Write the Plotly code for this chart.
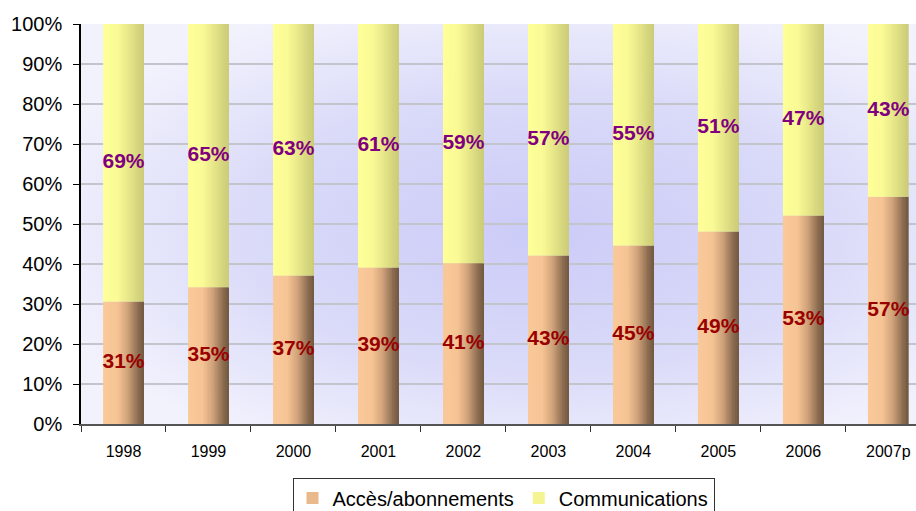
import base64
import plotly.graph_objects as go

# ---- data ----
years = ["1998", "1999", "2000", "2001", "2002", "2003", "2004", "2005", "2006", "2007p"]
acces_height = [30.6, 34.2, 37.1, 39.1, 40.2, 42.1, 44.6, 48.1, 52.1, 56.8]
acces_labels = ["31%", "35%", "37%", "39%", "41%", "43%", "45%", "49%", "53%", "57%"]
comm_labels = ["69%", "65%", "63%", "61%", "59%", "57%", "55%", "51%", "47%", "43%"]
comm_height = [100 - a for a in acces_height]
y_ticks = list(range(0, 101, 10))
y_tick_text = [f"{v}%" for v in y_ticks]

series_names = ["Accès/abonnements", "Communications"]

# ---- styling ----
FONT = "Arial, 'Liberation Sans', sans-serif"
BAR_W = 0.48
N_STRIPS = 24

acces_stops = [(0.0, (250, 201, 154)), (0.35, (246, 196, 148)), (0.6, (208, 163, 122)),
               (0.85, (142, 110, 82)), (1.0, (112, 88, 64))]
comm_stops = [(0.0, (255, 255, 153)), (0.35, (250, 250, 150)), (0.6, (233, 233, 138)),
              (0.85, (213, 213, 126)), (1.0, (204, 204, 120))]


def grad(stops, t):
    for (t0, c0), (t1, c1) in zip(stops[:-1], stops[1:]):
        if t <= t1:
            f = (t - t0) / (t1 - t0) if t1 > t0 else 0
            c = [round(a + (b - a) * f) for a, b in zip(c0, c1)]
            return f"rgb({c[0]},{c[1]},{c[2]})"
    c = stops[-1][1]
    return f"rgb({c[0]},{c[1]},{c[2]})"


fig = go.Figure()

strip_w = BAR_W / N_STRIPS
for i in range(N_STRIPS):
    t = (i + 0.5) / N_STRIPS
    off = -BAR_W / 2 + i * strip_w
    w = strip_w * (1.4 if i < N_STRIPS - 1 else 1.0)
    legend_strip = i == int(N_STRIPS * 0.45)
    fig.add_trace(go.Bar(
        x=years, y=acces_height, base=[0] * len(years),
        offset=off, width=w,
        marker=dict(color=grad(acces_stops, t), line=dict(width=0)),
        name=series_names[0], legendgroup="a", showlegend=legend_strip,
        hoverinfo="skip",
    ))
    fig.add_trace(go.Bar(
        x=years, y=comm_height, base=acces_height,
        offset=off, width=w,
        marker=dict(color=grad(comm_stops, t), line=dict(width=0)),
        name=series_names[1], legendgroup="c", showlegend=legend_strip,
        hoverinfo="skip",
    ))

# data labels, centred in each segment
fig.add_trace(go.Scatter(
    x=years, y=[a / 2 for a in acces_height], mode="text", text=acces_labels,
    textfont=dict(family=FONT, size=21, color="#990000", weight="bold"),
    showlegend=False, hoverinfo="skip", cliponaxis=False,
))
fig.add_trace(go.Scatter(
    x=years, y=[a + c / 2 for a, c in zip(acces_height, comm_height)], mode="text",
    text=comm_labels,
    textfont=dict(family=FONT, size=21, color="#800080", weight="bold"),
    showlegend=False, hoverinfo="skip", cliponaxis=False,
))

# radial background for the plot area
svg = (
    '<svg xmlns="http://www.w3.org/2000/svg" width="835" height="400" preserveAspectRatio="none">'
    '<defs><radialGradient id="g" cx="0.55" cy="0.52" r="0.62">'
    '<stop offset="0" stop-color="#CBCBF8"/>'
    '<stop offset="0.55" stop-color="#DADAF9"/>'
    '<stop offset="1" stop-color="#F2F2FD"/>'
    '</radialGradient></defs>'
    '<rect width="835" height="400" fill="url(#g)"/></svg>'
)
bg_src = "data:image/svg+xml;base64," + base64.b64encode(svg.encode()).decode()

fig.update_layout(
    width=916, height=511,
    margin=dict(l=81, r=0, t=24, b=87, autoexpand=False),
    paper_bgcolor="white",
    plot_bgcolor="rgba(0,0,0,0)",
    barmode="overlay",
    font=dict(family=FONT, color="black"),
    images=[dict(source=bg_src, xref="paper", yref="paper", x=0, y=1,
                 sizex=1, sizey=1, xanchor="left", yanchor="top",
                 sizing="stretch", layer="below")],
    xaxis=dict(
        type="category", range=[-0.5, 9.326], automargin=False,
        showline=True, linecolor="#555555", linewidth=1.5,
        ticks="outside", tickson="boundaries", ticklen=6, tickcolor="#333333",
        tickfont=dict(size=16, family=FONT, color="black"),
        ticklabelstandoff=12, showgrid=False, fixedrange=True,
    ),
    yaxis=dict(
        range=[0, 100], tickvals=y_ticks, ticktext=y_tick_text, automargin=False,
        showline=True, linecolor="black", linewidth=1.5,
        ticks="outside", ticklen=6, tickcolor="black",
        tickfont=dict(size=20, family=FONT, color="black"),
        ticklabelstandoff=7,
        showgrid=True, gridcolor="#C4C4CC", gridwidth=1.5,
        zeroline=False, fixedrange=True,
    ),
    legend=dict(
        orientation="h", x=0.506, xanchor="center", y=-0.134, yanchor="top",
        bgcolor="white", bordercolor="#333333", borderwidth=1,
        font=dict(size=20, family=FONT, color="black"),
        itemsizing="constant", tracegroupgap=0,
    ),
    showlegend=True,
)

fig.write_html(
    "out.html",
    config={"displayModeBar": False},
    post_script="document.body.style.margin='0';document.body.style.overflow='hidden';",
)
